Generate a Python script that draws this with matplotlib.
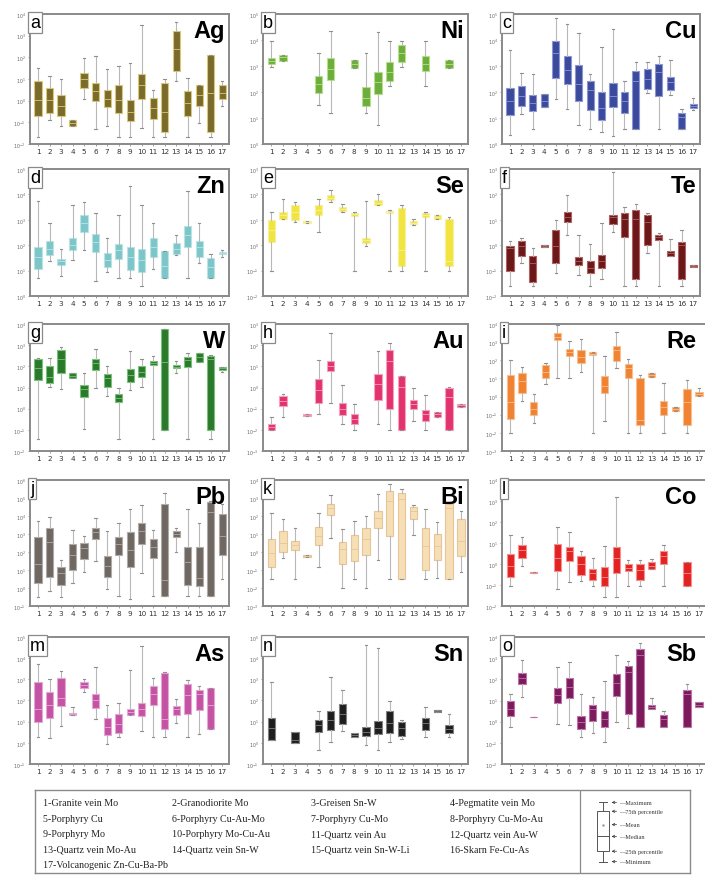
import numpy as np
import matplotlib
matplotlib.use("Agg")
import matplotlib.pyplot as plt

# box stats per deposit type 1..17: (min, q1, median, q3, max)
# values are decades above the lowest y tick of each panel, None = no data
ag = [(0.31, 1.27, 2.05, 2.9, 3.53), (1.12, 1.43, 2.05, 2.59, 3.13), (0.81, 1.27, 1.74, 2.25, 2.98),
      (0.81, 0.81, 0.96, 1.12, 1.12), (2.09, 2.59, 2.98, 3.29, 3.98), (0.70, 1.97, 2.43, 2.82, 4.06),
      (0.81, 1.71, 2.09, 2.48, 3.44), (0.31, 1.43, 2.05, 2.74, 3.6), (0.34, 1.04, 1.5, 2.02, 3.75),
      (0.76, 2.09, 2.74, 3.21, 5.49), (0.31, 1.16, 1.66, 2.12, 2.48), (0.31, 0.57, 1.5, 2.82, 2.98),
      (2.9, 3.36, 4.37, 5.22, 5.64), (0.31, 1.27, 1.89, 2.43, 3.05), (0.96, 1.74, 2.28, 2.74, 2.74),
      (0.31, 0.57, 2.36, 4.09, 4.09), (1.74, 2.09, 2.36, 2.74, 2.9)]
ni = [(2.96, 3.09, 3.2, 3.29, 3.95), (3.2, 3.2, 3.33, 3.42, 3.42), None, None,
      (1.49, 1.97, 2.3, 2.63, 3.51), (1.18, 2.46, 2.89, 3.29, 4.34), None,
      (2.93, 2.93, 3.09, 3.25, 3.25), (1.18, 1.45, 1.78, 2.2, 3.51), (0.72, 1.93, 2.37, 2.76, 4.3),
      (2.24, 2.43, 2.76, 3.16, 3.95), (2.96, 3.16, 3.51, 3.82, 3.95), None,
      (2.24, 2.8, 3.09, 3.38, 3.95), None, (2.93, 2.93, 3.09, 3.25, 3.25), None]
cu = [(0.36, 1.12, 1.64, 2.14, 3.62), (1.14, 1.45, 1.84, 2.24, 2.72), (0.59, 1.28, 1.58, 1.88, 2.7),
      (1.41, 1.41, 1.64, 1.91, 1.91), (1.74, 2.53, 3.49, 3.95, 4.83), (1.34, 2.3, 2.83, 3.38, 4.6),
      (0.75, 1.67, 2.3, 3.03, 4.28), (0.59, 1.32, 2.07, 2.41, 2.7), (0.46, 0.92, 1.38, 2.01, 3.75),
      (0.3, 1.41, 1.84, 2.33, 4.43), (0.59, 1.21, 1.64, 2.01, 2.43), (0.59, 0.59, 2.43, 2.8, 3.16),
      (1.97, 2.11, 2.5, 2.89, 3.16), (0.59, 1.84, 2.76, 3.07, 3.38), (1.88, 2.07, 2.37, 2.59, 3.22),
      (0.59, 0.59, 1.05, 1.21, 1.36), (1.32, 1.38, 1.45, 1.54, 1.78)]
zn = [(0.71, 1.07, 1.53, 1.91, 3.73), (1.37, 1.6, 1.87, 2.17, 2.89), (0.8, 1.24, 1.37, 1.47, 1.87),
      (1.43, 1.8, 2.0, 2.27, 3.6), (1.8, 2.53, 2.87, 3.2, 3.69), (0.6, 1.73, 2.13, 2.44, 3.27),
      (0.93, 1.16, 1.4, 1.69, 2.27), (0.71, 1.47, 1.8, 2.04, 3.2), (0.71, 1.03, 1.53, 1.93, 4.33),
      (0.4, 0.93, 1.4, 1.87, 3.6), (1.07, 1.53, 1.93, 2.27, 2.89), (0.71, 0.71, 1.2, 1.77, 1.77),
      (1.6, 1.64, 1.87, 2.09, 2.4), (0.71, 1.93, 2.4, 2.76, 4.13), (1.29, 1.53, 1.93, 2.17, 2.89),
      (0.71, 0.71, 1.13, 1.51, 1.64), (1.53, 1.64, 1.69, 1.72, 1.8)]
se = [(1.0, 2.14, 2.6, 2.99, 3.31), (3.05, 3.05, 3.18, 3.31, 3.83), (2.92, 2.99, 3.31, 3.6, 3.7),
      (2.86, 2.86, 2.9, 2.95, 2.95), (2.53, 3.18, 3.38, 3.57, 3.83), (3.71, 3.77, 3.87, 3.99, 4.19),
      (3.3, 3.34, 3.44, 3.51, 3.64), (1.0, 3.16, 3.21, 3.25, 3.3), (1.95, 2.08, 2.21, 2.3, 3.73),
      (3.6, 3.6, 3.68, 3.77, 4.03), (1.0, 3.25, 3.3, 3.34, 3.38), (1.0, 1.17, 1.82, 3.47, 3.57),
      (2.79, 2.82, 2.88, 2.95, 3.05), (1.0, 3.12, 3.18, 3.25, 3.31), (3.05, 3.05, 3.12, 3.18, 3.18),
      (1.0, 1.17, 1.36, 3.05, 3.12), None]
te = [(0.39, 0.97, 1.88, 1.95, 2.18), (1.3, 1.58, 1.96, 2.18, 2.27), (0.39, 0.55, 1.3, 1.58, 1.88),
      (1.92, 1.92, 1.95, 2.01, 2.01), (0.91, 1.3, 1.95, 2.6, 2.99), (2.4, 2.92, 3.12, 3.31, 3.96),
      (0.81, 1.23, 1.36, 1.53, 2.4), (0.39, 0.91, 1.1, 1.36, 2.05), (0.65, 1.1, 1.36, 1.62, 2.86),
      (2.53, 2.83, 3.12, 3.18, 4.87), (0.39, 2.31, 3.05, 3.27, 3.51), (0.39, 0.68, 3.05, 3.4, 3.64),
      (1.69, 2.01, 2.92, 3.18, 3.25), (0.39, 2.21, 2.31, 2.4, 2.49), (1.58, 1.58, 1.69, 1.79, 2.23),
      (0.39, 0.68, 2.01, 2.14, 2.6), (1.14, 1.14, 1.19, 1.23, 1.23)]
w = [(0.58, 3.36, 3.92, 4.33, 4.38), (3.02, 3.2, 3.5, 4.02, 4.38), (2.92, 3.7, 4.33, 4.77, 4.92),
     (3.44, 3.44, 3.55, 3.67, 3.67), (1.05, 2.55, 2.92, 3.13, 3.7), (2.97, 3.83, 4.14, 4.33, 4.8),
     (2.61, 3.02, 3.44, 3.64, 4.02), (0.58, 2.3, 2.5, 2.7, 2.97), (2.86, 3.28, 3.59, 3.86, 4.73),
     (3.02, 3.48, 3.75, 4.02, 4.33), (0.58, 4.06, 4.17, 4.27, 4.48), (0.98, 0.98, 4.2, 5.78, 5.78),
     (3.7, 3.91, 3.98, 4.06, 4.27), (0.58, 3.98, 4.3, 4.42, 4.64), (4.22, 4.22, 4.45, 4.61, 4.64),
     (0.58, 0.98, 4.33, 4.48, 4.53), (3.75, 3.84, 3.92, 3.98, 3.98)]
au = [(0.98, 0.98, 1.14, 1.29, 1.59), (1.59, 2.12, 2.35, 2.61, 2.7), None,
      (1.66, 1.66, 1.7, 1.74, 1.74), (1.74, 2.27, 2.88, 3.41, 4.32), (2.27, 3.79, 4.02, 4.24, 5.58),
      (1.29, 1.7, 2.0, 2.27, 3.11), (0.98, 1.29, 1.52, 1.74, 2.2), None,
      (1.29, 2.42, 3.15, 3.64, 4.73), (0.98, 1.97, 4.24, 4.77, 5.12), (0.98, 0.98, 3.03, 3.56, 3.56),
      (1.44, 2.0, 2.2, 2.39, 3.0), (0.98, 1.44, 1.74, 1.94, 2.65), (1.59, 1.59, 1.74, 1.85, 1.85),
      (0.98, 0.98, 2.55, 3.0, 3.03), (2.09, 2.09, 2.15, 2.24, 2.24)]
re = [(0.98, 1.79, 2.68, 4.2, 5.0), (2.77, 3.18, 3.84, 4.29, 4.64), (1.57, 1.96, 2.32, 2.68, 3.13),
      (3.71, 4.02, 4.38, 4.73, 4.86), (4.02, 6.11, 6.29, 6.52, 6.96), (4.02, 5.21, 5.45, 5.63, 6.07),
      (4.38, 4.86, 5.18, 5.57, 6.16), (0.98, 5.27, 5.36, 5.45, 5.45), (1.64, 3.18, 3.57, 4.11, 5.21),
      (4.55, 4.96, 5.54, 5.8, 6.57), (0.98, 4.02, 4.55, 4.82, 5.09), (0.98, 1.46, 1.7, 4.02, 4.2),
      (4.07, 4.07, 4.18, 4.29, 4.29), (0.98, 1.96, 2.41, 2.77, 3.75), (2.18, 2.18, 2.29, 2.41, 2.41),
      (0.98, 1.46, 2.68, 3.39, 3.93), (3.04, 3.04, 3.13, 3.25, 3.48)]
pb = [(0.49, 1.28, 2.33, 3.86, 4.74), (0.84, 1.63, 3.56, 4.32, 4.96), (0.49, 1.19, 1.81, 2.16, 2.56),
      (1.28, 1.98, 2.86, 3.44, 4.21), (1.89, 2.6, 3.21, 3.51, 3.91), (2.51, 3.74, 4.09, 4.32, 4.88),
      (0.93, 1.63, 2.25, 2.77, 4.18), (0.58, 2.86, 3.44, 3.86, 4.61), (0.4, 2.16, 3.12, 4.09, 5.37),
      (1.81, 3.44, 4.18, 4.61, 5.61), (0.58, 2.68, 3.26, 3.74, 4.21), (0.58, 0.58, 1.46, 5.67, 6.28),
      (2.98, 3.86, 4.0, 4.14, 4.35), (0.58, 1.19, 2.42, 3.26, 5.4), (0.58, 1.1, 1.54, 3.26, 4.61),
      (0.58, 0.58, 5.23, 5.79, 5.84), (1.51, 2.81, 3.91, 5.09, 5.67)]
bi = [(1.5, 2.19, 2.93, 3.71, 5.17), (2.64, 2.98, 3.52, 4.14, 4.83), (1.5, 3.1, 3.38, 3.62, 4.31),
      (2.71, 2.71, 2.76, 2.81, 2.81), (2.19, 3.4, 3.88, 4.4, 5.17), (3.79, 5.05, 5.43, 5.69, 6.16),
      (0.98, 2.33, 3.19, 3.57, 4.26), (1.5, 2.5, 3.19, 3.97, 4.74), (0.98, 2.84, 3.71, 4.31, 5.0),
      (2.53, 4.36, 4.91, 5.29, 6.21), (1.5, 3.91, 5.86, 6.38, 6.78), (1.5, 1.5, 5.95, 6.29, 6.5),
      (3.97, 4.83, 5.29, 5.52, 5.6), (1.5, 1.98, 3.31, 4.31, 5.4), (1.55, 2.53, 3.36, 4.02, 4.66),
      (1.5, 1.5, 5.43, 5.69, 5.74), (1.9, 2.76, 3.62, 4.83, 5.26)]
co = [(0.97, 1.39, 1.92, 2.48, 3.36), (1.92, 2.27, 2.67, 2.91, 3.29), (1.55, 1.55, 1.58, 1.61, 1.61),
      None, (0.79, 1.67, 2.3, 2.94, 3.74), (1.12, 2.12, 2.61, 2.83, 3.52),
      (1.17, 1.47, 2.0, 2.38, 2.61), (0.97, 1.24, 1.55, 1.77, 2.3), (0.45, 0.97, 1.39, 1.85, 2.88),
      (0.45, 1.55, 2.3, 2.83, 5.18), (0.97, 1.67, 1.82, 2.0, 2.18), (0.97, 1.24, 1.7, 2.0, 2.18),
      (1.77, 1.77, 1.92, 2.08, 2.23), (0.97, 2.0, 2.38, 2.64, 2.91), None,
      (0.97, 0.97, 1.55, 2.08, 2.08), None]
as_ = [(1.27, 1.98, 2.62, 3.86, 4.71), (1.22, 2.17, 2.78, 3.41, 4.02), (1.79, 2.75, 3.1, 4.08, 4.4),
       (2.3, 2.3, 2.37, 2.43, 2.7), (3.38, 3.6, 3.73, 3.86, 4.0), (2.14, 2.65, 3.02, 3.29, 4.6),
       (0.95, 1.38, 1.75, 2.17, 2.78), (1.27, 1.48, 1.9, 2.38, 2.9), (2.33, 2.33, 2.46, 2.59, 4.44),
       (1.54, 2.27, 2.62, 2.9, 5.56), (1.27, 2.81, 3.33, 3.7, 4.05), (1.27, 1.63, 2.14, 4.29, 4.37),
       (1.95, 2.33, 2.62, 2.75, 3.06), (1.27, 2.38, 3.25, 3.76, 3.97), (1.43, 2.54, 3.33, 3.49, 3.7),
       (1.67, 1.67, 2.78, 3.57, 3.57), None]
sn = [(1.13, 1.13, 1.69, 2.18, 3.87), None, (0.97, 0.97, 1.13, 1.53, 1.53), None,
      (0.65, 1.53, 1.85, 2.1, 2.5), (1.05, 1.61, 2.1, 2.5, 4.11), (1.56, 1.89, 2.34, 2.82, 3.5),
      (1.29, 1.29, 1.37, 1.45, 1.45), (0.92, 1.34, 1.53, 1.73, 5.6), (0.65, 1.4, 1.69, 2.02, 5.48),
      (1.05, 1.45, 1.94, 2.5, 2.98), (1.18, 1.34, 1.69, 1.98, 2.1), None,
      (1.29, 1.61, 1.94, 2.18, 2.69), (2.47, 2.47, 2.5, 2.53, 2.53), (1.29, 1.45, 1.66, 1.82, 2.37), None]
sb = [(1.75, 2.27, 2.62, 2.97, 3.33), (3.17, 3.76, 4.05, 4.29, 4.92), (2.2, 2.2, 2.22, 2.24, 2.24),
      None, (1.9, 2.9, 3.25, 3.57, 4.6), (1.86, 3.13, 3.65, 4.08, 4.84),
      (1.27, 1.63, 1.98, 2.27, 3.33), (1.48, 2.02, 2.62, 2.81, 3.17), (1.03, 1.75, 2.14, 2.49, 3.92),
      (1.98, 3.22, 3.81, 4.24, 5.16), (1.7, 2.38, 4.37, 4.65, 4.87), (1.75, 1.75, 5.16, 5.44, 5.71),
      (2.62, 2.62, 2.7, 2.81, 3.13), (1.75, 1.75, 2.14, 2.33, 2.49), None,
      (1.75, 1.75, 3.33, 3.49, 3.76), (2.7, 2.7, 2.81, 2.94, 2.94)]

elements = ["Ag", "Ni", "Cu", "Zn", "Se", "Te", "W", "Au", "Re", "Pb", "Bi", "Co", "As", "Sn", "Sb"]
letters = list("abcdefghijklmno")
panel_data = [ag, ni, cu, zn, se, te, w, au, re, pb, bi, co, as_, sn, sb]
# lowest tick exponent and number of decades shown on each y axis
floor_exp = [-2, 0, 0, 0, -2, -2, -2, -3, -3, -1, -3, -2, -1, -1, -2]
n_decades = [6, 5, 5, 5, 5, 5, 6, 6, 7, 7, 7, 6, 6, 6, 6]
face_colors = ["#7a6a2c", "#6cad3c", "#3b4a9c", "#7cc6ca", "#f2e43e", "#6a1818", "#2b7a2b", "#e2336e",
               "#f08232", "#6e6762", "#f6dfb4", "#e32222", "#c553a4", "#1e1e1e", "#7c1b5c"]
edge_colors = ["#d8c878", "#b6e08a", "#8a96d6", "#b8e4e6", "#f6f0a0", "#b06060", "#7ac07a", "#f5a0bc",
               "#f8c090", "#b0aaa6", "#e8c49a", "#f59090", "#e6a6d6", "#808080", "#c070a8"]

legend_items = ["1-Granite vein Mo", "2-Granodiorite Mo", "3-Greisen Sn-W", "4-Pegmatite vein Mo",
                "5-Porphyry Cu", "6-Porphyry Cu-Au-Mo", "7-Porphyry Cu-Mo", "8-Porphyry Cu-Mo-Au",
                "9-Porphyry Mo", "10-Porphyry Mo-Cu-Au", "11-Quartz vein Au", "12-Quartz vein Au-W",
                "13-Quartz vein Mo-Au", "14-Quartz vein Sn-W", "15-Quartz vein Sn-W-Li", "16-Skarn Fe-Cu-As",
                "17-Volcanogenic Zn-Cu-Ba-Pb"]
key_labels = ["Maximum", "75th percentile", "Mean", "Median", "25th percentile", "Minimum"]
key_levels = [0.9, 0.78, 0.6, 0.44, 0.24, 0.1]

W_PX, H_PX = 705, 878
fig = plt.figure(figsize=(W_PX / 100, H_PX / 100), dpi=100)

row_px = [(15, 145), (170, 297), (325, 452), (481, 607), (638, 765)]
col_px = [(30, 229), (263, 468), (502, 700)]


def px_axes(x0, x1, y0, y1):
    return fig.add_axes([x0 / W_PX, 1 - y1 / H_PX, (x1 - x0) / W_PX, (y1 - y0) / H_PX])


for i, el in enumerate(elements):
    r, c = divmod(i, 3)
    x0, x1 = col_px[c]
    if c == 2 and r >= 2:
        x1 = 706  # right frame of these panels sits at the page edge
    y0, y1 = row_px[r]
    ax = px_axes(x0, x1, y0, y1)

    base = floor_exp[i]
    stats, pos = [], []
    for k, s in enumerate(panel_data[i]):
        if s is None:
            continue
        lo, q1, med, q3, hi = [10.0 ** (base + v) for v in s]
        stats.append(dict(whislo=lo, q1=q1, med=med, q3=q3, whishi=hi, fliers=[]))
        pos.append(k + 1)

    ax.bxp(stats, positions=pos, widths=0.62, patch_artist=True, showfliers=False,
           boxprops=dict(facecolor=face_colors[i], edgecolor=edge_colors[i], linewidth=0.8),
           whiskerprops=dict(color="#b8b8b8", linewidth=0.8),
           capprops=dict(color="#909090", linewidth=0.8), capwidths=0.22,
           medianprops=dict(color=edge_colors[i], linewidth=0.6))

    ax.set_yscale("log")
    ax.set_ylim(10.0 ** base, 10.0 ** (base + n_decades[i]))
    ax.set_xlim(0.3, 17.6)
    exps = range(base, base + n_decades[i] + 1)
    ax.set_yticks([10.0 ** e for e in exps])
    ax.set_yticklabels([r"$10^{%d}$" % e for e in exps], fontsize=3.4, color="#666666")
    ax.yaxis.set_minor_locator(matplotlib.ticker.NullLocator())
    ax.set_xticks(range(1, 18))
    ax.set_xticklabels([str(k) for k in range(1, 18)], fontsize=5.2, color="#333333")
    ax.tick_params(axis="both", length=1.5, width=0.5, pad=1.5, color="#777777")
    for sp in ax.spines.values():
        sp.set_color("#8a8a8a")
        sp.set_linewidth(1.4)

    ax.text(0.0, 1.0, letters[i], transform=ax.transAxes, ha="left", va="top", fontsize=13,
            family="Liberation Sans",
            bbox=dict(boxstyle="square,pad=0.12", fc="white", ec="#8a8a8a", lw=0.9))
    # keep the element name inside the visible part of the figure
    x_lab = (min(x1, 700) - 4 - x0) / (x1 - x0)
    ax.text(x_lab, 0.96, el, transform=ax.transAxes, ha="right", va="top", fontsize=17,
            fontweight="bold", family="Liberation Sans")

# deposit type key at the bottom
lax = px_axes(35, 690, 791, 874)
lax.set_xlim(0, 655)
lax.set_ylim(83, 0)
lax.set_xticks([])
lax.set_yticks([])
for sp in lax.spines.values():
    sp.set_color("#8a8a8a")
    sp.set_linewidth(1.0)
lax.axvline(545, color="#8a8a8a", lw=0.9)
col_x = [8, 137, 276, 415]
for j, txt in enumerate(legend_items):
    rr, cc = divmod(j, 4)
    lax.text(col_x[cc], 13 + rr * 15.5, txt, fontsize=7.2, family="Liberation Serif",
             va="center", ha="left", color="#222222")

# box legend diagram
kax = px_axes(590, 688, 796, 870)
kax.set_xlim(0, 1)
kax.set_ylim(0, 1)
kax.axis("off")
mx, mq3, mmean, mmed, mq1, mmin = key_levels
kax.bxp([dict(whislo=mmin, q1=mq1, med=mmed, q3=mq3, whishi=mx, fliers=[])], positions=[0.13],
        widths=0.12, showfliers=False, patch_artist=True, manage_ticks=False,
        boxprops=dict(facecolor="white", edgecolor="#555555", linewidth=0.7),
        whiskerprops=dict(color="#555555", linewidth=0.7),
        capprops=dict(color="#555555", linewidth=0.7), capwidths=0.08,
        medianprops=dict(color="#555555", linewidth=0.7))
kax.plot([0.13], [mmean], marker=".", ms=1.5, color="#999999")
for lab, lv in zip(key_labels, key_levels):
    kax.annotate("\u2014" + lab, xy=(0.22, lv), xytext=(0.3, lv), fontsize=4.5,
                 family="Liberation Serif", va="center", ha="left", color="#333333",
                 arrowprops=dict(arrowstyle="->", lw=0.5, color="#333333", shrinkA=0, shrinkB=0))

fig.savefig("out.png", dpi=100)
